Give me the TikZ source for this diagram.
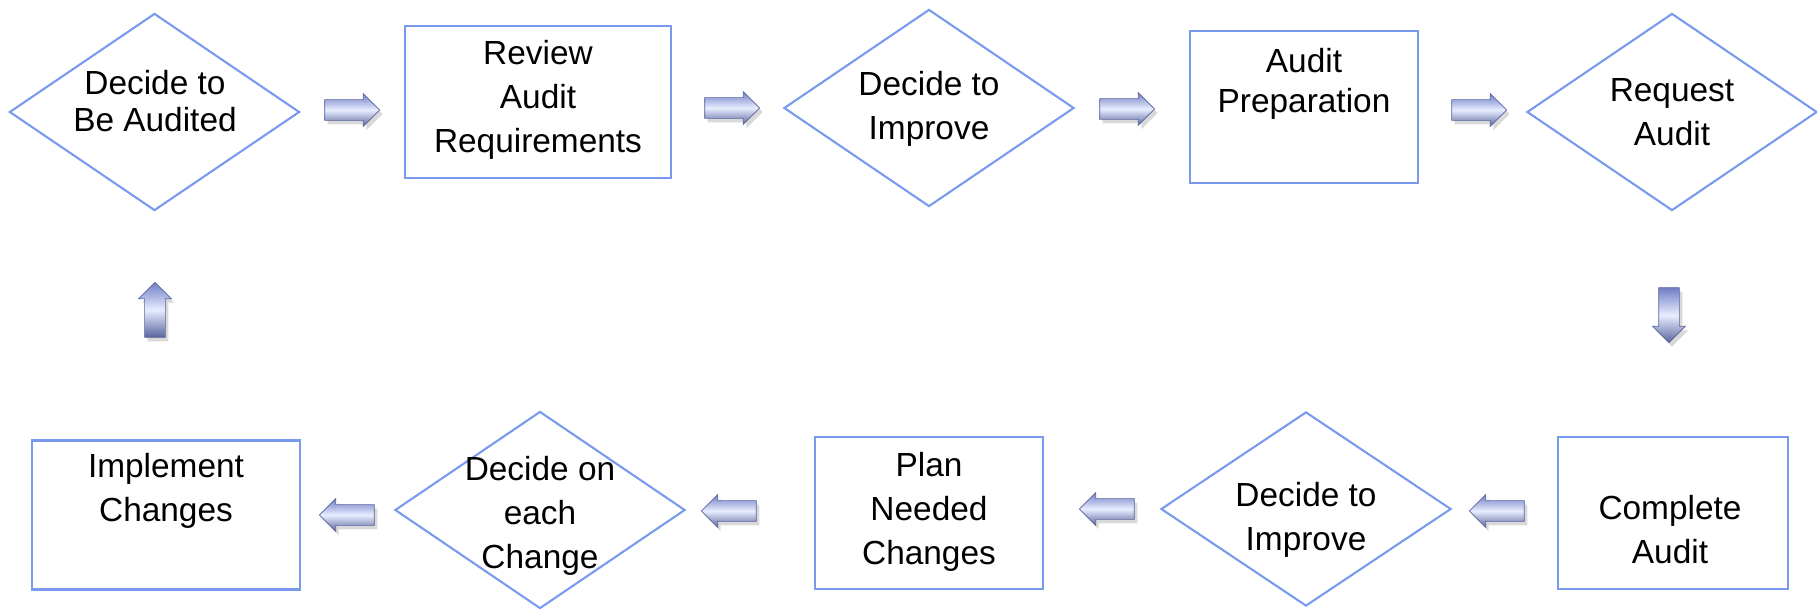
\documentclass[tikz,border=0pt]{standalone}
\usepackage{fontspec}
\setmainfont{Liberation Sans}
\usetikzlibrary{shapes.geometric,shapes.arrows,shadows}

\definecolor{boxblue}{RGB}{122,154,240}
\definecolor{arrowdark}{RGB}{112,126,196}
\definecolor{arrowlight}{RGB}{232,237,255}

\tikzset{
  auditbox/.style={draw=boxblue, line width=0.6pt, minimum height=1.52cm, minimum width=#1, inner sep=0},
  choice/.style={diamond, draw=boxblue, line width=0.6pt, minimum width=2.90cm, minimum height=1.97cm, inner sep=0},
  lbl/.style={align=center, inner sep=0, font=\fontsize{9.5}{12.5}\selectfont},
  flow/.style={single arrow, single arrow head extend=0.06cm, single arrow head indent=0cm,
    minimum height=0.55cm, inner xsep=0, inner ysep=0.1cm,
    draw=arrowdark!80!black, line width=0.2pt,
    top color=arrowdark, bottom color=arrowdark!80!black, middle color=arrowlight,
    drop shadow={opacity=0.3, shadow xshift=0.03cm, shadow yshift=-0.04cm}, rotate=#1},
}

\begin{document}
\begin{tikzpicture}[x=0.01cm,y=-0.01cm]
\useasboundingbox (0,0) rectangle (1817,609);
% top row
\node[choice] (d1) at (154.5,112) {};
\node[lbl, font=\fontsize{9.5}{10.5}\selectfont] (d1t) at (155,101) {Decide to\\Be Audited};
\node[flow=0] (a1) at (347,110) {};
\node[auditbox=2.66cm] (b1) at (538,102) {};
\node[lbl] (b1t) at (538,100) {Review\\Audit\\Requirements};
\node[flow=0] (a2) at (727,108) {};
\node[choice] (d2) at (929,108) {};
\node[lbl] (d2t) at (929,109) {Decide to\\Improve};
\node[flow=0] (a3) at (1122,109) {};
\node[auditbox=2.28cm] (b2) at (1304,107) {};
\node[lbl, font=\fontsize{9.5}{11.3}\selectfont] (b2t) at (1304,84) {Audit\\Preparation};
\node[flow=0] (a4) at (1474,110) {};
\node[choice] (d3) at (1672,112) {};
\node[lbl] (d3t) at (1672,112) {Request\\Audit};
% turn down and up
\node[flow=-90] (a5) at (1669,310) {};
\node[flow=90] (a10) at (155,315) {};
% bottom row
\node[auditbox=2.30cm] (b3) at (1673,513) {};
\node[lbl] (b3t) at (1670,530) {Complete\\Audit};
\node[flow=180] (a6) at (1502,511) {};
\node[choice, minimum height=1.94cm] (d4) at (1306,509) {};
\node[lbl] (d4t) at (1306,520) {Decide to\\Improve};
\node[flow=180] (a7) at (1112,509) {};
\node[auditbox=2.27cm] (b4) at (929,513) {};
\node[lbl] (b4t) at (929,512) {Plan\\Needed\\Changes};
\node[flow=180] (a8) at (734,511) {};
\node[choice] (d5) at (540,510) {};
\node[lbl] (d5t) at (540,516) {Decide on\\each\\Change};
\node[flow=180] (a9) at (352,515) {};
\node[auditbox=2.67cm, minimum height=1.49cm] (b5) at (166,515) {};
\node[lbl] (b5t) at (166,491) {Implement\\Changes};
\end{tikzpicture}
\end{document}
